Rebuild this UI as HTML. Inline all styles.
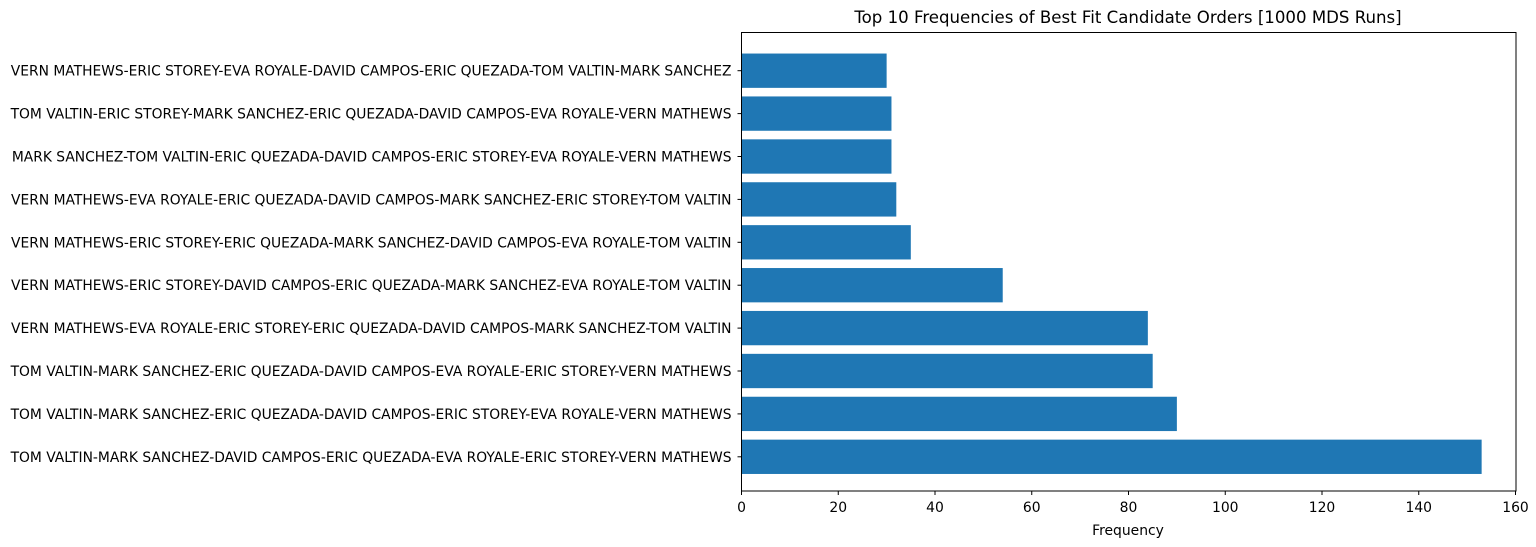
<!DOCTYPE html>
<html><head><meta charset="utf-8"><style>
html,body{margin:0;padding:0;background:#fff;}
svg{display:block;font-family:"DejaVu Sans","Liberation Sans",sans-serif;}
</style></head><body>
<svg id="chart" width="1536" height="547" viewBox="0 0 1536 547" xmlns="http://www.w3.org/2000/svg">
<rect x="0" y="0" width="1536" height="547" fill="#fff"/>
<text x="1128" y="23" font-size="16.6" text-anchor="middle" fill="#000">Top 10 Frequencies of Best Fit Candidate Orders [1000 MDS Runs]</text>
<g id="bars"></g>
<g id="yticks"></g>
<g id="xticks"></g>
<rect x="741.5" y="32.5" width="774.5" height="458.5" fill="none" stroke="#000" stroke-width="1"/>
<text x="1128" y="535" font-size="13.9" text-anchor="middle" fill="#000">Frequency</text>
</svg>
<script>
const categories = [
"TOM VALTIN-MARK SANCHEZ-DAVID CAMPOS-ERIC QUEZADA-EVA ROYALE-ERIC STOREY-VERN MATHEWS",
"TOM VALTIN-MARK SANCHEZ-ERIC QUEZADA-DAVID CAMPOS-ERIC STOREY-EVA ROYALE-VERN MATHEWS",
"TOM VALTIN-MARK SANCHEZ-ERIC QUEZADA-DAVID CAMPOS-EVA ROYALE-ERIC STOREY-VERN MATHEWS",
"VERN MATHEWS-EVA ROYALE-ERIC STOREY-ERIC QUEZADA-DAVID CAMPOS-MARK SANCHEZ-TOM VALTIN",
"VERN MATHEWS-ERIC STOREY-DAVID CAMPOS-ERIC QUEZADA-MARK SANCHEZ-EVA ROYALE-TOM VALTIN",
"VERN MATHEWS-ERIC STOREY-ERIC QUEZADA-MARK SANCHEZ-DAVID CAMPOS-EVA ROYALE-TOM VALTIN",
"VERN MATHEWS-EVA ROYALE-ERIC QUEZADA-DAVID CAMPOS-MARK SANCHEZ-ERIC STOREY-TOM VALTIN",
"MARK SANCHEZ-TOM VALTIN-ERIC QUEZADA-DAVID CAMPOS-ERIC STOREY-EVA ROYALE-VERN MATHEWS",
"TOM VALTIN-ERIC STOREY-MARK SANCHEZ-ERIC QUEZADA-DAVID CAMPOS-EVA ROYALE-VERN MATHEWS",
"VERN MATHEWS-ERIC STOREY-EVA ROYALE-DAVID CAMPOS-ERIC QUEZADA-TOM VALTIN-MARK SANCHEZ"
];
const frequencies = [153, 90, 85, 84, 54, 35, 32, 31, 31, 30];
const xTickValues = [0, 20, 40, 60, 80, 100, 120, 140, 160];

const NS = "http://www.w3.org/2000/svg";
const x0 = 741.5, xMax = 160, pxPer = (1515.5 - 741.5) / xMax;
function xScale(v){ return x0 + v * pxPer; }
const yBottom = 456.8, yStep = 42.9;
function yScale(i){ return yBottom - i * yStep; }
const barH = 0.8 * yStep;

const gb = document.getElementById('bars');
const gy = document.getElementById('yticks');
const gx = document.getElementById('xticks');

categories.forEach((c, i) => {
  const cy = yScale(i);
  const r = document.createElementNS(NS, 'rect');
  r.setAttribute('x', x0);
  r.setAttribute('y', cy - barH / 2);
  r.setAttribute('width', xScale(frequencies[i]) - x0);
  r.setAttribute('height', barH);
  r.setAttribute('fill', '#1f77b4');
  
  
  gb.appendChild(r);

  const t = document.createElementNS(NS, 'line');
  t.setAttribute('x1', x0 - 4); t.setAttribute('x2', x0);
  t.setAttribute('y1', cy); t.setAttribute('y2', cy);
  t.setAttribute('stroke', '#000');
  
  
  gy.appendChild(t);

  const l = document.createElementNS(NS, 'text');
  l.setAttribute('x', x0 - 10);
  l.setAttribute('y', cy + 5);
  l.setAttribute('font-size', '13.84');
  l.setAttribute('text-anchor', 'end');
  l.textContent = c;
  
  
  gy.appendChild(l);
});

xTickValues.forEach(v => {
  const x = xScale(v);
  const t = document.createElementNS(NS, 'line');
  t.setAttribute('x1', x); t.setAttribute('x2', x);
  t.setAttribute('y1', 491); t.setAttribute('y2', 495);
  t.setAttribute('stroke', '#000');
  
  
  gx.appendChild(t);
  const l = document.createElementNS(NS, 'text');
  l.setAttribute('x', x);
  l.setAttribute('y', 512);
  l.setAttribute('font-size', '13.9');
  l.setAttribute('text-anchor', 'middle');
  l.textContent = v;
  
  
  gx.appendChild(l);
});
</script>
</body></html>
